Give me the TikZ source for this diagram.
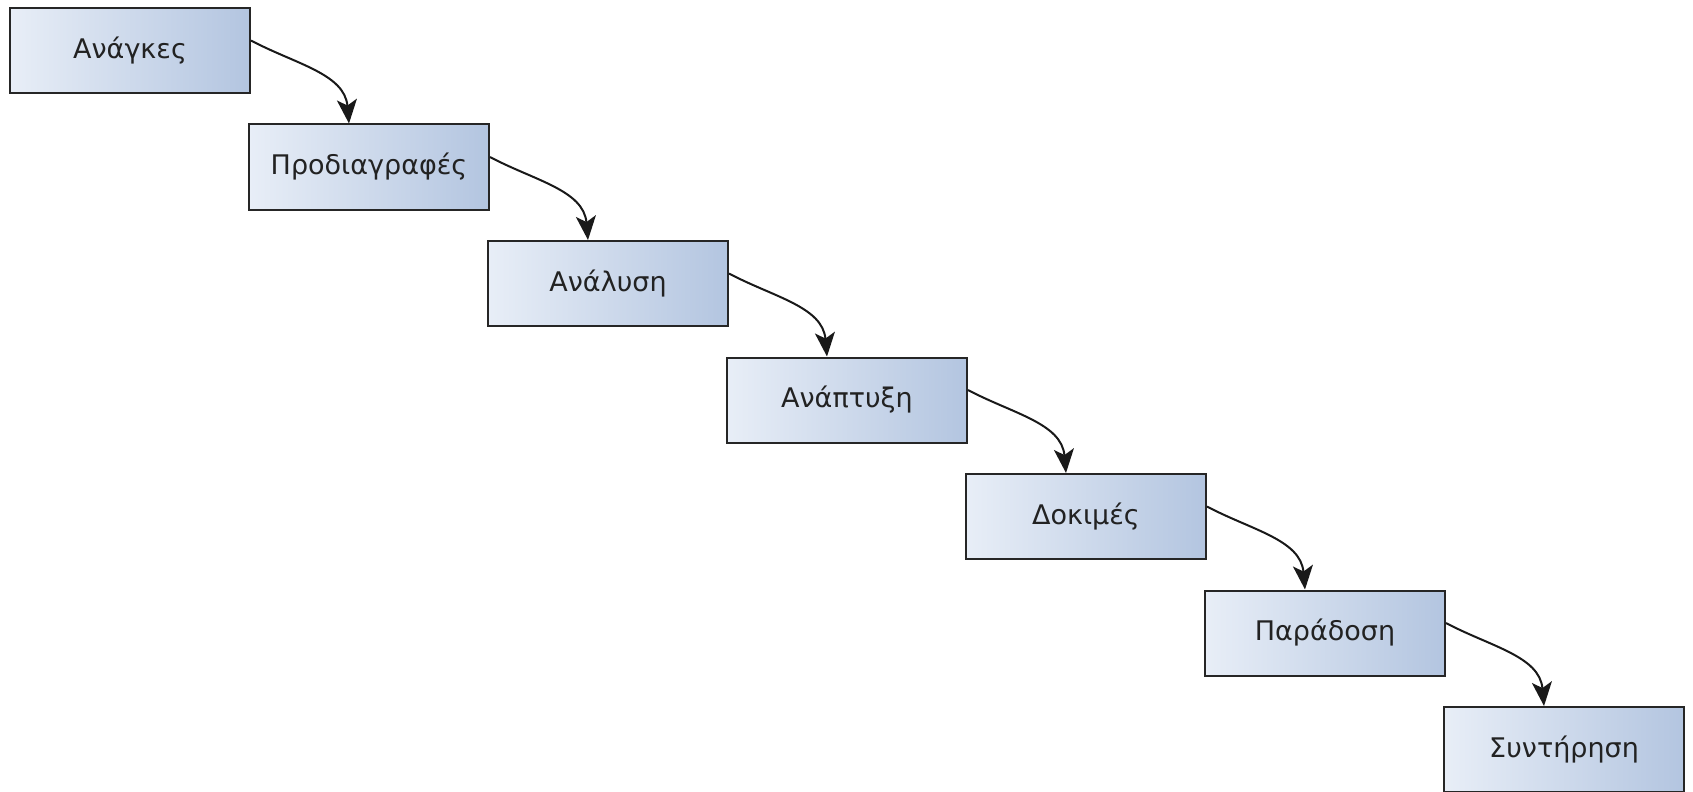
\documentclass[tikz,border=0pt]{standalone}
\usepackage{fontspec}
\setmainfont{DejaVu Sans}
\usetikzlibrary{arrows.meta}
\definecolor{boxleft}{HTML}{E8EEF7}
\definecolor{boxright}{HTML}{B3C5E0}
\definecolor{boxtext}{HTML}{222222}
\tikzset{
  stage/.style={rectangle, draw=black!85, line width=1pt, left color=boxleft, right color=boxright,
    minimum width=120pt, minimum height=42.5pt, inner sep=0pt, text=boxtext, font=\fontsize{13.5}{16}\selectfont},
  flow/.style={-{Stealth[length=12pt, width=10pt, inset=3pt]}, line width=1pt, black!90}
}
\begin{document}
\begin{tikzpicture}[x=0.5pt, y=-0.5pt]
    \useasboundingbox (0,0) rectangle (1693,792);

    % Stages of the waterfall
    \node[stage] (needs) at (130,50.5) {Ανάγκες};
    \node[stage] (specs) at (369,167) {Προδιαγραφές};
    \node[stage] (analysis) at (608,283.5) {Ανάλυση};
    \node[stage] (develop) at (847,400) {Ανάπτυξη};
    \node[stage] (tests) at (1086,516.5) {Δοκιμές};
    \node[stage] (delivery) at (1325,633) {Παράδοση};
    \node[stage] (maint) at (1564,749.5) {Συντήρηση};

    % Connections between stages
    \draw[flow] ([yshift=5pt]needs.east) to[out=-28, in=95] ([xshift=-10pt]specs.north);
    \draw[flow] ([yshift=5pt]specs.east) to[out=-28, in=95] ([xshift=-10pt]analysis.north);
    \draw[flow] ([yshift=5pt]analysis.east) to[out=-28, in=95] ([xshift=-10pt]develop.north);
    \draw[flow] ([yshift=5pt]develop.east) to[out=-28, in=95] ([xshift=-10pt]tests.north);
    \draw[flow] ([yshift=5pt]tests.east) to[out=-28, in=95] ([xshift=-10pt]delivery.north);
    \draw[flow] ([yshift=5pt]delivery.east) to[out=-28, in=95] ([xshift=-10pt]maint.north);
\end{tikzpicture}
\end{document}
